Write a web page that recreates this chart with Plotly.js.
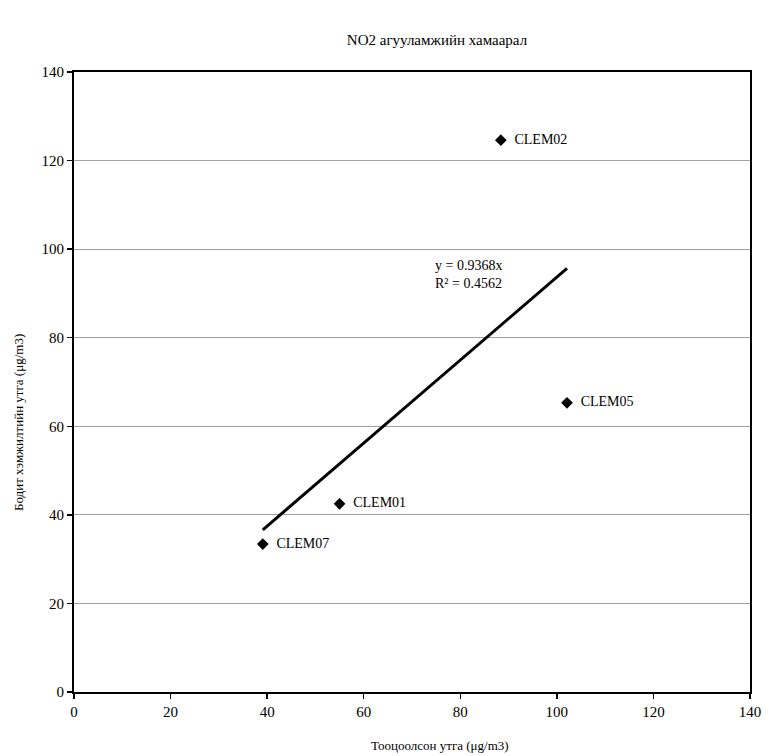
<!DOCTYPE html>
<html><head><meta charset="utf-8">
<script src="https://cdn.plot.ly/plotly-3.0.1.min.js"></script>
<style>body{margin:0;background:#fff}</style>
</head><body>
<div id="chart" style="width:768px;height:756px"></div>
<script>
var stations = ["CLEM07", "CLEM01", "CLEM02", "CLEM05"];
var calculated = [39.1, 55.0, 88.4, 102.1];
var measured = [33.4, 42.5, 124.6, 65.3];
var slope = 0.9368;
var r2 = 0.4562;
var xTicks = [0, 20, 40, 60, 80, 100, 120, 140];
var yTicks = [0, 20, 40, 60, 80, 100, 120, 140];

var xMin = Math.min.apply(null, calculated), xMax = Math.max.apply(null, calculated);
var font = "Liberation Serif";

var data = [
  {x: [xMin, xMax], y: [slope * xMin, slope * xMax], mode: "lines", type: "scatter",
   line: {color: "#000", width: 3}, hoverinfo: "skip", showlegend: false},
  {x: calculated, y: measured, mode: "markers+text", type: "scatter",
   text: stations.map(function(s){return "  " + s;}), textposition: "middle right",
   textfont: {family: font, size: 14, color: "#000"},
   marker: {symbol: "diamond", size: 9, color: "#000"}, showlegend: false}
];

var plotW = 768 - 74 - 18, plotH = 756 - 72 - 64;
var layout = {
  width: 768, height: 756,
  margin: {l: 74, r: 18, t: 72, b: 64},
  paper_bgcolor: "#fff", plot_bgcolor: "#fff",
  font: {family: font, size: 14, color: "#000"},
  title: {text: "NO2 агууламжийн хамаарал", font: {family: font, size: 15, color: "#000"},
          x: 0.569, xref: "container", xanchor: "center", y: 0.947, yref: "container", yanchor: "middle"},
  xaxis: {range: [0, 140], tickvals: xTicks, ticktext: xTicks.map(String), showgrid: false, zeroline: false,
          showline: true, linecolor: "#000", linewidth: 2, mirror: true,
          ticks: "outside", ticklen: 5, tickcolor: "#000", tickwidth: 1.5,
          tickfont: {family: font, size: 15, color: "#000"}},
  yaxis: {range: [0, 140], tickvals: yTicks, ticktext: yTicks.map(String), showgrid: true, gridcolor: "#a0a0a0", gridwidth: 1,
          zeroline: false, showline: true, linecolor: "#000", linewidth: 2, mirror: true,
          ticks: "outside", ticklen: 5, tickcolor: "#000", tickwidth: 1.5,
          tickfont: {family: font, size: 15, color: "#000"}},
  annotations: [
    {x: 74.4, y: 94.3, xref: "x", yref: "y", xanchor: "left", yanchor: "middle", align: "left",
     text: "y = " + slope + "x<br>R² = " + r2, showarrow: false,
     font: {family: font, size: 14, color: "#000"}},
    {x: (440 - 74) / plotW, y: -(745 - 692) / plotH, xref: "paper", yref: "paper", xanchor: "center", yanchor: "middle",
     text: "Тооцоолсон утга (μg/m3)", showarrow: false, font: {family: font, size: 13, color: "#000"}},
    {x: -(74 - 18) / plotW, y: (692 - 423) / plotH, xref: "paper", yref: "paper",
     xanchor: "center", yanchor: "middle", textangle: -90, text: "Бодит хэмжилтийн утга (μg/m3)",
     showarrow: false, font: {family: font, size: 13, color: "#000"}}
  ]
};

Plotly.newPlot("chart", data, layout, {displayModeBar: false, staticPlot: true});
</script>
</body></html>
